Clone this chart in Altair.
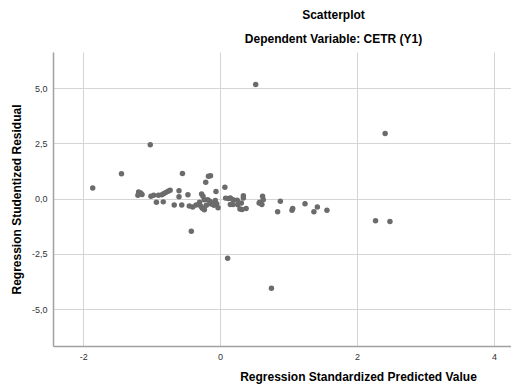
import altair as alt
import pandas as pd

pred = [
    -1.86, -1.44, -1.02, 2.41, -0.55, -0.21, -0.17, -0.14, 0.07, -0.42, 0.11, 2.27, 2.48, 0.75, 0.52,
    -1.19, -1.16, -1.20, -1.14, -1.01, -0.97, -0.90, -0.85, -0.82, -0.79, -0.76, -0.73, -0.93, -0.83,
    -0.67, -0.60, -0.60, -0.56, -0.47, -0.45, -0.40, -0.35, -0.30,
    -0.27, -0.25, -0.23, -0.28, -0.26, -0.23, -0.18, -0.15, -0.11, -0.07, -0.06, -0.05, -0.03, -0.20,
    -0.13, -0.09,
    0.08, 0.12, 0.15, 0.19, 0.15, 0.19, 0.25, 0.26, 0.29, 0.34, 0.34, 0.31, 0.32, 0.38,
    0.62, 0.63, 0.58, 0.61, 0.57, 0.88, 0.84, 1.06, 1.05, 1.24, 1.37, 1.42, 1.56,
]
resid = [
    0.48, 1.12, 2.43, 2.94, 1.13, 0.74, 1.01, 1.03, 0.51, -1.48, -2.70, -1.00, -1.04, -4.06, 5.16,
    0.30, 0.25, 0.15, 0.18, 0.10, 0.15, 0.15, 0.17, 0.23, 0.28, 0.33, 0.38, -0.17, -0.15,
    -0.29, 0.35, 0.08, -0.29, 0.17, -0.34, -0.38, -0.29, -0.17,
    0.21, 0.10, -0.05, -0.35, -0.44, -0.51, -0.05, -0.12, -0.20, -0.09, 0.32, -0.23, -0.42, -0.30,
    -0.25, -0.30,
    0.02, 0.00, 0.03, -0.05, -0.27, -0.27, -0.08, -0.28, -0.47, 0.13, 0.03, -0.20, -0.50, -0.45,
    0.10, -0.05, -0.17, -0.27, -0.20, -0.12, -0.60, -0.45, -0.53, -0.24, -0.60, -0.38, -0.53,
]
x_ticks = [-2, 0, 2, 4]
y_ticks = [-5.0, -2.5, 0.0, 2.5, 5.0]

df = pd.DataFrame({"pred": pred, "resid": resid})

lab = "(datum.value < 0 ? '-' : '') + replace(format(abs(datum.value), '{f}'), '.', ',')"

chart = alt.Chart(df).mark_circle(size=30, color="#6b6b6b", opacity=1).encode(
    x=alt.X("pred:Q",
            scale=alt.Scale(domain=[-2.44, 4.35], nice=False, zero=False),
            axis=alt.Axis(values=x_ticks, title="Regression Standardized Predicted Value",
                          labelExpr=lab.format(f="d"), titleX=305)),
    y=alt.Y("resid:Q",
            scale=alt.Scale(domain=[-6.67, 6.63], nice=False, zero=False),
            axis=alt.Axis(values=y_ticks, title="Regression Studentized Residual",
                          labelExpr=lab.format(f=".1f"))),
).properties(
    width=465, height=294,
    autosize=alt.AutoSizeParams(type="none"),
    padding={"left": 45, "top": 44, "right": -7, "bottom": 40},
    title=alt.TitleParams(["Scatterplot", "Dependent Variable: CETR (Y1)"],
                          fontSize=12, font="Liberation Sans", fontWeight="bold",
                          color="#000000", lineHeight=24, offset=6, dx=48),
).configure_view(stroke=None).configure_axis(
    grid=True, gridColor="#d4d4d4", gridWidth=1,
    domain=True, domainColor="#a0a0a0", domainWidth=1.5,
    ticks=False, labelFont="Liberation Sans", labelFontSize=9, labelColor="#333333",
    labelPadding=6, titleFont="Liberation Sans", titleFontSize=12, titleFontWeight="bold",
    titleColor="#000000",
).configure_axisX(titlePadding=10).configure_axisY(titlePadding=8)

chart.save("out.html", embed_options={"renderer": "svg", "actions": False})
